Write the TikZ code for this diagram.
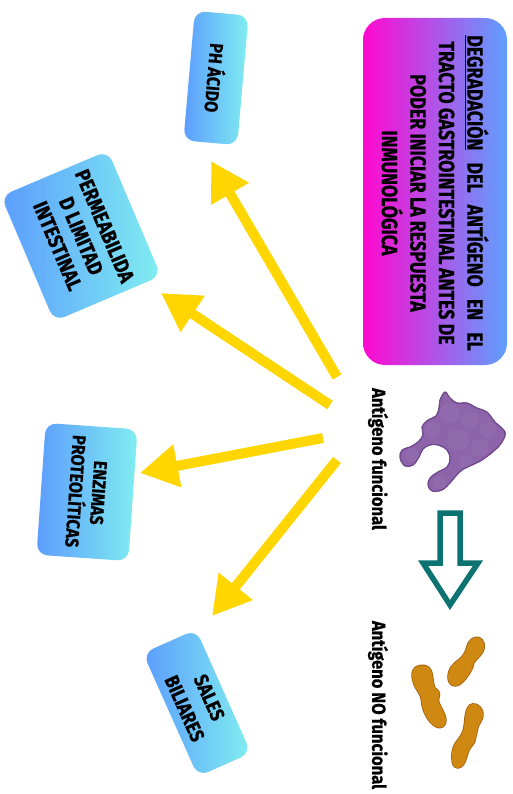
\documentclass[tikz,border=0pt]{standalone}
\usepackage{fontspec}
\newfontfamily\cond{Fira Sans}[FakeStretch=0.81, BoldFeatures={FakeBold=0.6}]
\newfontfamily\condw{Fira Sans}[FakeStretch=0.87, BoldFeatures={FakeBold=0.6}]
\usetikzlibrary{arrows.meta}

\definecolor{headmag}{HTML}{FF08D0}
\definecolor{headblue}{HTML}{5FA0FF}
\definecolor{boxblue}{HTML}{5C9DFD}
\definecolor{boxcyan}{HTML}{80EEF0}
\definecolor{arrowgold}{HTML}{FFD600}
\definecolor{tealdark}{HTML}{0D7372}
\definecolor{blobfill}{HTML}{8D63AA}
\definecolor{blobline}{HTML}{6C4689}
\definecolor{bacfill}{HTML}{CF8913}
\definecolor{bacline}{HTML}{9E5F0B}

% underline with a chosen rule thickness
\newcommand{\undl}[1]{\setbox0\hbox{#1}\rlap{\rule[-2.6pt]{\wd0}{1.3pt}}\box0}
\newcommand{\wsp}{\hspace{0.55em}}

\tikzset{
  topic/.style={rounded corners=11pt, left color=boxblue, right color=boxcyan,
    align=center, inner sep=0pt},
  boxfont/.style 2 args={font=\condw\bfseries\fontsize{#1}{#2}\selectfont},
  feed/.style={draw=arrowgold, line width=10pt,
    -{Triangle[length=38pt,width=41pt]}},
  lbl/.style={font=\condw\bfseries\fontsize{19}{22}\selectfont, inner sep=0pt},
  blob/.style={fill=blobfill, draw=blobline, line width=0.9pt},
  bacrim/.style={draw=bacline, line width=7.6pt, line join=round},
  bacbody/.style={fill=bacfill, draw=bacfill, line width=6pt, line join=round},
  hollow/.style={draw=tealdark, fill=white, line width=5.5pt, line join=miter}
}

\begin{document}
\begin{tikzpicture}[x=1pt,y=1pt]
\useasboundingbox (0,0) rectangle (512,-794);
\fill[white] (0,0) rectangle (512,-794);

% title panel
\node (head) [rounded corners=22pt, left color=headmag, right color=headblue,
  minimum width=144pt, minimum height=347pt, inner sep=0pt] at (435,-191.5) {};
\node (headtxt) [rotate=-90, align=center, inner sep=0pt,
  font=\cond\bfseries\fontsize{22}{28.5}\selectfont] at (435,-193)
  {\undl{DEGRADACIÓN}\wsp DEL\wsp ANTÍGENO\wsp EN\wsp EL\\
   TRACTO GASTROINTESTINAL\,ANTES DE\\
   PODER INICIAR LA RESPUESTA\\
   INMUNOLÓGICA};

% factor boxes
\node (ph) [topic, boxfont={18.5}{22}, minimum width=130pt, minimum height=54pt, rotate=-95]
  at (216,-78) {PH ÁCIDO};
\node (perm) [topic, boxfont={21}{25.5}, minimum width=136pt, minimum height=116pt, rotate=-67]
  at (81,-236) {PERMEABILIDA\\D LIMITAD\\INTESTINAL};
\node (enz) [topic, boxfont={18.5}{23}, minimum width=132pt, minimum height=92pt, rotate=-94]
  at (87,-492) {ENZIMAS\\PROTEOLÍTICAS};
\node (sal) [topic, boxfont={20}{27}, minimum width=135pt, minimum height=58pt, rotate=-66]
  at (197,-703) {SALES\\BILIARES};

% arrow ends
\coordinate (t1) at (337,-377); \coordinate (h1) at (211,-161);
\coordinate (t2) at (330,-405); \coordinate (h2) at (161,-293);
\coordinate (t3) at (323,-438); \coordinate (h3) at (140,-473);
\coordinate (t4) at (337,-460); \coordinate (h4) at (212,-616);
\draw[feed] (t1) -- (h1);
\draw[feed] (t2) -- (h2);
\draw[feed] (t3) -- (h3);
\draw[feed] (t4) -- (h4);

% labels
\node (fun) [lbl, rotate=-90] at (378,-459) {Antígeno funcional};
\node (nofun) [lbl, rotate=-90] at (378,-705) {Antígeno NO funcional};

% functional antigen
\def\blobpath{plot[smooth cycle, tension=0.6] coordinates {
  (440,-400) (445,-392) (450,-398) (457,-403) (467,-403) (477,-408)
  (487,-412) (495,-422) (505,-432) (502,-442) (495,-450) (482,-460)
  (472,-465) (462,-470) (455,-477) (450,-483) (442,-490) (432,-491)
  (428,-485) (430,-478) (438,-472) (447,-467) (450,-459) (447,-450)
  (438,-445) (430,-445) (423,-449) (419,-457) (413,-465) (405,-466)
  (400,-458) (402,-450) (410,-447) (418,-442) (423,-435) (422,-427)
  (428,-420) (436,-416) (439,-408)}}
\fill[blob] \blobpath;
\begin{scope}
  \clip \blobpath;
  \foreach \cx/\cy/\r in {450/-413/10, 470/-420/9, 488/-430/8, 458/-440/11,
      480/-448/9, 432/-430/8, 440/-482/7, 412/-455/7, 466/-462/7}
    \fill[white, opacity=0.045] (\cx,\cy) circle (\r);
\end{scope}
\draw[blobline, line width=0.9pt] \blobpath;

% transformation arrow
\draw[hollow] (440,-513) -- (460,-513) -- (460,-563) -- (478,-563)
  -- (450,-605) -- (423,-563) -- (440,-563) -- cycle;

% degraded fragments (outline drawn wide, then the body on top)
\def\bacA{plot[smooth cycle, tension=0.7] coordinates {
  (476.7,-640) (481,-644) (480,-650.7) (475,-656.7) (471,-661.7)
  (469.7,-666.7) (466,-673.3) (461,-679.5) (456.7,-682.5) (452.7,-682)
  (451,-676.7) (453.2,-669) (457.7,-664.3) (464,-659)
  (468.5,-651.7) (471,-644.3)}}
\def\bacB{plot[smooth cycle, tension=0.7] coordinates {
  (420,-668.5) (415.3,-672.5) (416.8,-683.3) (423.2,-695) (425.5,-706.7)
  (429.5,-716) (435.5,-723) (440.7,-724.5) (443,-720) (440.2,-712)
  (435.5,-701.7) (436.5,-693.3) (432,-689.5) (430,-680) (428.5,-672)
  (424.5,-668.5)}}
\def\bacC{plot[smooth cycle, tension=0.7] coordinates {
  (472,-707) (478.3,-709.5) (479.8,-716.7) (475.5,-725) (473.2,-735)
  (471.5,-741.5) (466.6,-748) (463.3,-757.8) (460.5,-763.4) (457,-764.8)
  (455.2,-761) (455.2,-752) (458.2,-744.3) (463.2,-737.5) (466.7,-728.8)
  (468.5,-715)}}
\foreach \b in {\bacA,\bacB,\bacC}{
  \draw[bacrim] \b;
  \filldraw[bacbody] \b;
}
\end{tikzpicture}
\end{document}
